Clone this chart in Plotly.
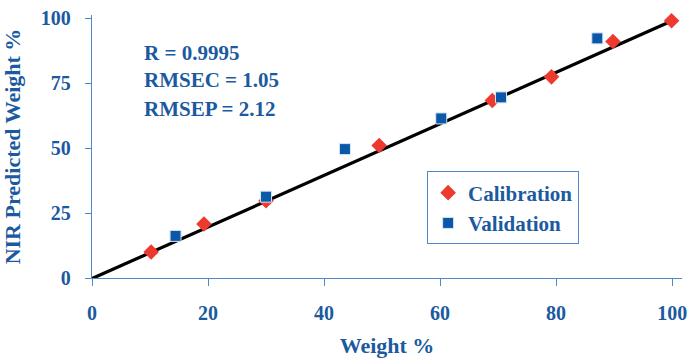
import plotly.graph_objects as go

# Data
cal_x = [10.2, 19.3, 30.0, 49.5, 69.0, 79.2, 89.8, 99.9]
cal_y = [10.0, 20.8, 29.7, 51.0, 68.3, 77.4, 91.0, 99.0]
val_x = [14.4, 30.0, 43.6, 60.2, 70.5, 87.1]
val_y = [16.2, 31.3, 49.6, 61.4, 69.5, 92.2]
fit_x = [-1.0, 100.0]
fit_y = [-1.2, 99.0]
x_ticks = [0, 20, 40, 60, 80, 100]
y_ticks = [0, 25, 50, 75, 100]
stats_lines = ["R = 0.9995", "RMSEC = 1.05", "RMSEP = 2.12"]
stats_y = [86.5, 76.0, 65.2]

TXT = "#1b5a9f"
AX = "#4f8ac6"
FONT = "Liberation Serif"

fig = go.Figure()
fig.add_trace(go.Scatter(x=fit_x, y=fit_y, mode="lines", line=dict(color="black", width=3.2),
                         showlegend=False, hoverinfo="skip", cliponaxis=False))
fig.add_trace(go.Scatter(x=cal_x, y=cal_y, mode="markers", name="<b>Calibration</b>",
                         marker=dict(symbol="diamond", size=12, color="#ee3a2e"), cliponaxis=False))
fig.add_trace(go.Scatter(x=val_x, y=val_y, mode="markers", name="<b>Validation</b>",
                         marker=dict(symbol="square", size=11, color="#0a58a8",
                                     line=dict(color="#d6e6f5", width=1)), cliponaxis=False))

for t, yy in zip(stats_lines, stats_y):
    fig.add_annotation(x=8.6, y=yy, xref="x", yref="y", text="<b>" + t + "</b>",
                       showarrow=False, xanchor="left", yanchor="middle",
                       font=dict(family=FONT, size=21, color=TXT))

fig.update_layout(
    width=691, height=358,
    margin=dict(l=92, r=9, t=15, b=80, autoexpand=False),
    paper_bgcolor="white", plot_bgcolor="white",
    font=dict(family=FONT, color=TXT),
    legend=dict(x=0.568, y=0.405, xanchor="left", yanchor="top",
                bordercolor=AX, borderwidth=1, bgcolor="white",
                font=dict(family=FONT, size=21, color=TXT),
                itemsizing="trace", tracegroupgap=0, itemwidth=30),
    xaxis=dict(range=[0, 101.7], tickvals=x_ticks,
               ticktext=["<b>%d</b>" % v for v in x_ticks],
               showgrid=False, zeroline=False, automargin=False,
               showline=True, linecolor=AX, linewidth=1.3,
               ticks="outside", ticklen=7, tickcolor=AX, tickwidth=1.3,
               ticklabelstandoff=10,
               tickfont=dict(family=FONT, size=20, color=TXT),
               title=dict(text="<b>Weight %</b>", standoff=16,
                          font=dict(family=FONT, size=22, color=TXT))),
    yaxis=dict(range=[0, 101.2], tickvals=y_ticks,
               ticktext=["<b>%d</b>" % v for v in y_ticks],
               showgrid=False, zeroline=False, automargin=False,
               showline=True, linecolor=AX, linewidth=1.3,
               ticks="outside", ticklen=6, tickcolor=AX, tickwidth=1.3,
               ticklabelstandoff=10,
               tickfont=dict(family=FONT, size=20, color=TXT),
               title=dict(text="<b>NIR Predicted Weight %</b>", standoff=14,
                          font=dict(family=FONT, size=22, color=TXT))),
)

fig.write_html("out.html")
